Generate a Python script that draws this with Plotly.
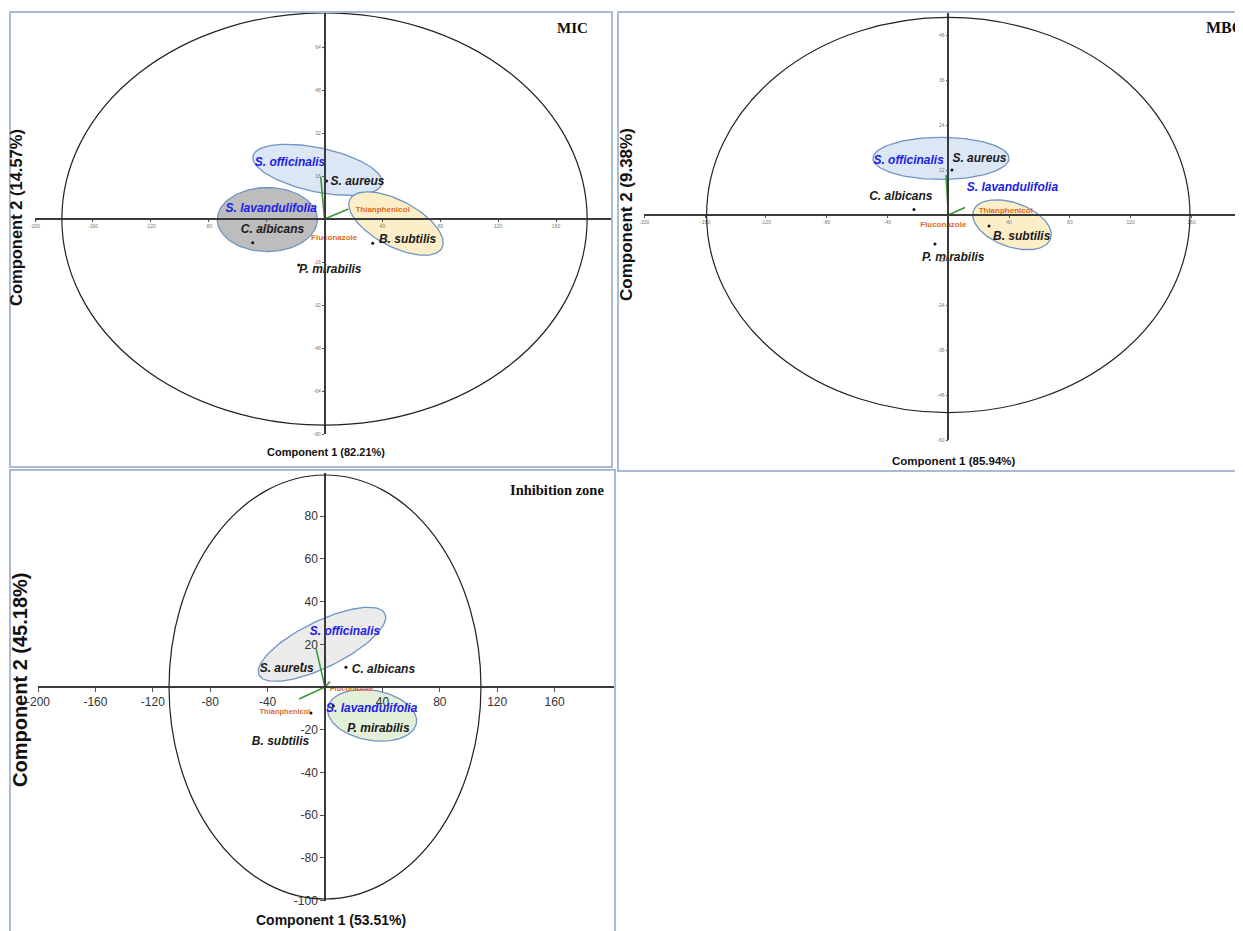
import numpy as np
import plotly.graph_objects as go

W, H = 1243, 931
OFF = 8  # page body margin compensation (pixels)

# ---------------- data ----------------
# MIC panel
mic_samples = ["S. aureus", "C. albicans", "B. subtilis", "P. mirabilis"]
mic_dot_x = [1.4, -49.6, 33.3, -17.8]
mic_dot_y = [14.1, -8.8, -9.0, -17.1]
mic_sample_lab_x = [22.8, -35.9, 57.4, 4.0]
mic_sample_lab_y = [13.9, -4.1, -7.8, -19.0]
mic_extracts = ["S. officinalis", "S. lavandulifolia"]
mic_extract_lab_x = [-23.8, -36.8]
mic_extract_lab_y = [20.7, 3.7]
mic_drugs = ["Thianphenicol", "Fluconazole"]
mic_drug_lab_x = [40.1, 6.7]
mic_drug_lab_y = [3.3, -7.2]
mic_load_x = [-2.6, 16.5]
mic_load_y = [15.7, 3.7]
mic_xticks = [-200, -160, -120, -80, -40, 40, 80, 120, 160]
mic_yticks = [-80, -64, -48, -32, -16, 16, 32, 48, 64]

# MBC panel
mbc_samples = ["S. aureus", "C. albicans", "B. subtilis", "P. mirabilis"]
mbc_dot_x = [2.4, -22.6, 26.8, -8.75]
mbc_dot_y = [12.0, 1.5, -2.9, -7.7]
mbc_sample_lab_x = [20.5, -31.2, 48.3, 3.3]
mbc_sample_lab_y = [14.9, 4.8, -5.9, -11.4]
mbc_extracts = ["S. officinalis", "S. lavandulifolia"]
mbc_extract_lab_x = [-26.1, 42.2]
mbc_extract_lab_y = [14.5, 7.2]
mbc_drugs = ["Thianphenicol", "Fluconazole"]
mbc_drug_lab_x = [37.8, -3.3]
mbc_drug_lab_y = [1.1, -2.7]
mbc_load_x = [-1.5, 11.0]
mbc_load_y = [10.7, 2.0]
mbc_xticks = [-200, -160, -120, -80, -40, 40, 80, 120, 160]
mbc_yticks = [-60, -48, -36, -24, -12, 12, 24, 36, 48]

# Inhibition zone panel
iz_samples = ["S. aureus", "C. albicans", "B. subtilis", "P. mirabilis"]
iz_dot_x = [-15.8, 14.6, -9.8, 5.8]
iz_dot_y = [10.8, 9.2, -12.2, -8.9]
iz_sample_lab_x = [-26.7, 40.7, -31.0, 37.2]
iz_sample_lab_y = [8.4, 8.0, -25.6, -19.8]
iz_extracts = ["S. officinalis", "S. lavandulifolia"]
iz_extract_lab_x = [13.9, 32.5]
iz_extract_lab_y = [25.9, -10.5]
iz_drugs = ["Thianphenicol", "Fluconazole"]
iz_drug_lab_x = [-27.9, 18.6]
iz_drug_lab_y = [-11.9, -0.9]
iz_load_x = [-6.3, -18.1, 3.5]
iz_load_y = [18.1, -5.6, 2.5]
iz_xticks = [-200, -160, -120, -80, -40, 40, 80, 120, 160]
iz_yticks = [-100, -80, -60, -40, -20, 20, 40, 60, 80]

# ---------------- geometry (pixel placement of each panel) ----------------
PANELS = {
    "mic": dict(ox=324.5, sx=1.447, oy=219.0, sy=2.6875, xl=-200, xr_px=612, yb=-80, yt_px=12),
    "mbc": dict(ox=948.3, sx=1.52, oy=215.0, sy=3.75, xl=-200, xr_px=1251, yb=-60, yt_px=12),
    "iz": dict(ox=325.0, sx=1.435, oy=687.0, sy=2.135, xl=-200, xr_px=615, yb=-100, yt_px=473),
}

BLUE = "#2020e8"
BLACK = "#1a1a1a"
ORANGE = "#e06a1e"
GREEN = "#3a9a3a"
EDGE = "#6f93c2"
SANS = "Liberation Sans, Arial, sans-serif"
SERIF = "Liberation Serif, Times New Roman, serif"


def fx(px):
    return (px - OFF) / W


def fy(py):
    return 1 - (py - OFF) / H


def ellipse(cx, cy, a_px, b_px, ang, p):
    t = np.linspace(0, 2 * np.pi, 120)
    th = np.radians(ang)
    px = a_px * np.cos(t) * np.cos(th) - b_px * np.sin(t) * np.sin(th)
    py = a_px * np.cos(t) * np.sin(th) + b_px * np.sin(t) * np.cos(th)
    return cx + px / p["sx"], cy + py / p["sy"]


fig = go.Figure()

panel_defs = [
    ("mic", "x", "y", mic_dot_x, mic_dot_y, mic_samples, mic_sample_lab_x, mic_sample_lab_y,
     mic_extracts, mic_extract_lab_x, mic_extract_lab_y, mic_drugs, mic_drug_lab_x, mic_drug_lab_y,
     mic_load_x, mic_load_y,
     [(-4.8, 18.3, 66, 22, -12, "#dbe7f5"), (-39.5, -0.2, 50, 32, 0, "#bdbdbd"), (49.4, -1.7, 52, 23, -28, "#fcefc8")],
     (181.5, 76.7), 12, 8),
    ("mbc", "x2", "y2", mbc_dot_x, mbc_dot_y, mbc_samples, mbc_sample_lab_x, mbc_sample_lab_y,
     mbc_extracts, mbc_extract_lab_x, mbc_extract_lab_y, mbc_drugs, mbc_drug_lab_x, mbc_drug_lab_y,
     mbc_load_x, mbc_load_y,
     [(-4.8, 15.1, 68, 21, 0, "#dbe7f5"), (41.9, -2.6, 41, 22, -20, "#fcefc8")],
     (159.0, 52.7), 12, 8),
    ("iz", "x3", "y3", iz_dot_x, iz_dot_y, iz_samples, iz_sample_lab_x, iz_sample_lab_y,
     iz_extracts, iz_extract_lab_x, iz_extract_lab_y, iz_drugs, iz_drug_lab_x, iz_drug_lab_y,
     iz_load_x, iz_load_y,
     [(-2.1, 20.0, 70, 23, 26, "#ebebeb"), (32.8, -13.3, 45, 25, -10, "#e3efd9")],
     (108.7, 99.3), 12, 7.5),
]

shapes = []
for (key, xa, ya, dx, dy, st, slx, sly, ex, elx, ely, dr, dlx, dly, lx, ly,
     ells, big, fs, dfs) in panel_defs:
    p = PANELS[key]
    for (cx, cy, a, b, ang, fillc) in ells:
        ex_, ey_ = ellipse(cx, cy, a, b, ang, p)
        fig.add_trace(go.Scatter(x=ex_, y=ey_, mode="lines", fill="toself", fillcolor=fillc,
                                 line=dict(color=EDGE, width=1.3), xaxis=xa, yaxis=ya,
                                 hoverinfo="skip"))
    shapes.append(dict(type="circle", xref=xa, yref=ya, x0=-big[0], x1=big[0], y0=-big[1], y1=big[1],
                       line=dict(color="#222", width=1.2), layer="above"))
    for x1, y1 in zip(lx, ly):
        fig.add_trace(go.Scatter(x=[0, x1], y=[0, y1], mode="lines", line=dict(color=GREEN, width=1.6),
                                 xaxis=xa, yaxis=ya, hoverinfo="skip"))
    fig.add_trace(go.Scatter(x=dx, y=dy, mode="markers", marker=dict(color="#111", size=3),
                             xaxis=xa, yaxis=ya, hoverinfo="skip"))
    fig.add_trace(go.Scatter(x=slx, y=sly, text=st, mode="text", cliponaxis=False,
                             textfont=dict(family=SANS, size=fs, color=BLACK, weight="bold", style="italic"),
                             xaxis=xa, yaxis=ya, hoverinfo="skip"))
    fig.add_trace(go.Scatter(x=elx, y=ely, text=ex, mode="text", cliponaxis=False,
                             textfont=dict(family=SANS, size=fs, color=BLUE, weight="bold", style="italic"),
                             xaxis=xa, yaxis=ya, hoverinfo="skip"))
    fig.add_trace(go.Scatter(x=dlx, y=dly, text=dr, mode="text", cliponaxis=False,
                             textfont=dict(family=SANS, size=dfs, color=ORANGE, weight="bold"),
                             xaxis=xa, yaxis=ya, hoverinfo="skip"))


def axes_for(key, xticks, yticks, tfont, ticklen):
    p = PANELS[key]
    xl_px = p["ox"] + p["xl"] * p["sx"]
    xr = (p["xr_px"] - p["ox"]) / p["sx"]
    yb_px = p["oy"] - p["yb"] * p["sy"]
    yt = (p["oy"] - p["yt_px"]) / p["sy"]
    common = dict(showgrid=False, zeroline=False, showline=True, linecolor="#3a3a3a", linewidth=1.5,
                  ticks="outside", ticklen=ticklen, tickcolor="#555", tickwidth=1, tickfont=tfont,
                  automargin=False, anchor="free", fixedrange=True)
    xaxis = dict(common, domain=[fx(xl_px), min(1.0, fx(p["xr_px"]))], range=[p["xl"], xr],
                 position=fy(p["oy"]), tickvals=xticks, ticktext=[str(v) for v in xticks])
    yaxis = dict(common, domain=[fy(yb_px), fy(p["yt_px"])], range=[p["yb"], yt],
                 position=fx(p["ox"]), tickvals=yticks, ticktext=[str(v) for v in yticks])
    return xaxis, yaxis


small_font = dict(family=SANS, size=5, color="#777")
big_font = dict(family=SANS, size=12, color="#333")
x1a, y1a = axes_for("mic", mic_xticks, mic_yticks, small_font, 2)
x2a, y2a = axes_for("mbc", mbc_xticks, mbc_yticks, small_font, 2)
x3a, y3a = axes_for("iz", iz_xticks, iz_yticks, big_font, 4)

# panel borders
for (l, t, r, b) in [(10, 12, 612, 467), (618, 12, 1270, 471), (10, 470, 615, 960)]:
    shapes.append(dict(type="rect", xref="paper", yref="paper", x0=fx(l), x1=fx(r), y0=fy(b), y1=fy(t),
                       line=dict(color="#a7bbd4", width=2), layer="above"))

annotations = []


def ann(text, x, y, size, family, angle=0, xanchor="center", color="#111"):
    annotations.append(dict(text=text, x=fx(x), y=fy(y), xref="paper", yref="paper", showarrow=False,
                            xanchor=xanchor, yanchor="middle", textangle=angle,
                            font=dict(size=size, family=family, color=color, weight="bold")))


ann("MIC", 590, 28, 15, SERIF, xanchor="right")
ann("MBC", 1204, 28, 16, SERIF, xanchor="left")
ann("Inhibition zone", 606, 490, 14.5, SERIF, xanchor="right")
ann("Component 1 (82.21%)", 326, 452, 11, SANS)
ann("Component 1 (85.94%)", 953, 461, 11.5, SANS)
ann("Component 1 (53.51%)", 331, 920, 14, SANS)
ann("Component 2 (14.57%)", 16, 218, 16.5, SANS, angle=-90)
ann("Component 2 (9.38%)", 626, 215, 17, SANS, angle=-90)
ann("Component 2 (45.18%)", 20, 680, 20, SANS, angle=-90)

fig.update_layout(
    width=W, height=H, margin=dict(l=0, r=0, t=0, b=0),
    paper_bgcolor="white", plot_bgcolor="rgba(0,0,0,0)", showlegend=False,
    xaxis=x1a, yaxis=y1a, xaxis2=x2a, yaxis2=y2a, xaxis3=x3a, yaxis3=y3a,
    shapes=shapes, annotations=annotations,
)

fig.write_html("out.html")
